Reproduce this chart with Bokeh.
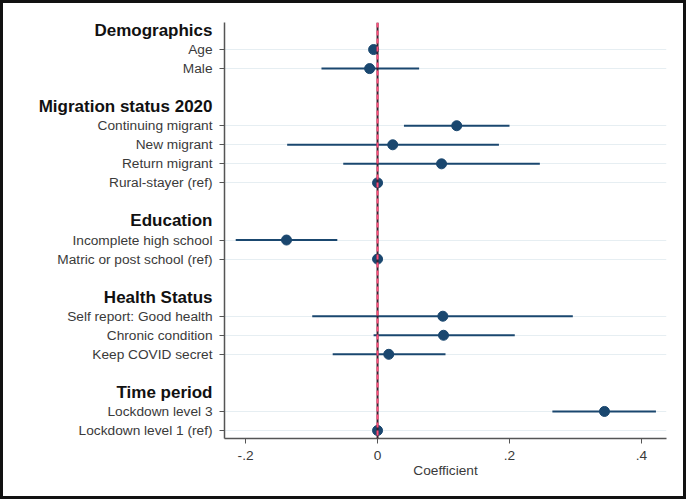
from bokeh.plotting import figure
from bokeh.models import Range1d, FixedTicker, Span, ColumnDataSource
from bokeh.layouts import row
from bokeh.core.properties import value
from bokeh.embed import file_html
from bokeh.resources import INLINE

# ---- data ----
groups = ["Demographics", "Migration status 2020", "Education", "Health Status", "Time period"]
group_items = [
    ["Age", "Male"],
    ["Continuing migrant", "New migrant", "Return migrant", "Rural-stayer (ref)"],
    ["Incomplete high school", "Matric or post school (ref)"],
    ["Self report: Good health", "Chronic condition", "Keep COVID secret"],
    ["Lockdown level 3", "Lockdown level 1 (ref)"],
]
coef = [-0.006, -0.012,
        0.120, 0.023, 0.097, 0.0,
        -0.138, 0.0,
        0.099, 0.100, 0.017,
        0.344, 0.0]
ci_low = [-0.006, -0.085,
          0.040, -0.137, -0.052, 0.0,
          -0.215, 0.0,
          -0.099, -0.006, -0.068,
          0.265, 0.0]
ci_high = [-0.006, 0.063,
           0.200, 0.184, 0.246, 0.0,
           -0.061, 0.0,
           0.296, 0.208, 0.103,
           0.422, 0.0]
x_ticks = [-0.2, 0.0, 0.2, 0.4]
x_tick_labels = ["-.2", "0", ".2", ".4"]

# ---- row layout (header row, items, blank row between groups) ----
header_rows = []
item_rows = []
item_labels = []
r = 0
for g, items in zip(groups, group_items):
    header_rows.append(r)
    r += 1
    for it in items:
        item_rows.append(r)
        item_labels.append(it)
        r += 1
    r += 1
last_row = item_rows[-1]

NAVY = "#1a476f"
TXT = "#3a3a3a"
AX = "#555555"
FONT = "Liberation Sans"
X0, X1 = -0.232, 0.438
H = 493
TOP, BOTTOM = 19, 58
LW = 211          # width of label panel
MW = 469          # width of main panel

yr = Range1d(last_row + 0.42, -0.42)

# ---- label panel ----
lp = figure(width=LW, height=H, output_backend="svg", toolbar_location=None,
            x_range=Range1d(0, LW), y_range=yr, x_axis_type=None, y_axis_type=None,
            min_border_left=0, min_border_right=0, min_border_top=TOP, min_border_bottom=BOTTOM)
lp.outline_line_color = None
lp.grid.visible = False
lp.text(x=[LW - 2] * len(item_rows), y=item_rows, text=item_labels,
        text_align="right", text_baseline="middle", text_font=value(FONT),
        text_font_size="13.7px", text_color=TXT)
lp.text(x=[LW - 2] * len(header_rows), y=header_rows, text=groups,
        text_align="right", text_baseline="middle", text_font=value(FONT),
        text_font_style="bold", text_font_size="17px", text_color="#111111")

# ---- main panel ----
p = figure(width=MW, height=H, output_backend="svg", toolbar_location=None,
           x_range=Range1d(X0, X1), y_range=yr,
           min_border_left=10, min_border_right=17, min_border_top=TOP, min_border_bottom=BOTTOM)
p.outline_line_color = None

p.xgrid.visible = False
p.ygrid.ticker = FixedTicker(ticks=item_rows)
p.ygrid.grid_line_color = "#e6eef2"
p.ygrid.grid_line_width = 1

p.yaxis.ticker = FixedTicker(ticks=item_rows)
p.yaxis.major_label_overrides = {r_: "" for r_ in item_rows}
p.yaxis.major_label_text_font_size = "1px"
p.yaxis.major_label_standoff = 0
p.yaxis.axis_line_color = AX
p.yaxis.axis_line_width = 1.5
p.yaxis.major_tick_line_color = AX
p.yaxis.major_tick_in = 0
p.yaxis.major_tick_out = 5
p.yaxis.minor_tick_line_color = None

p.xaxis.ticker = FixedTicker(ticks=x_ticks)
p.xaxis.major_label_overrides = {t: l for t, l in zip(x_ticks, x_tick_labels)}
p.xaxis.major_label_text_font = FONT
p.xaxis.major_label_text_font_size = "13.7px"
p.xaxis.major_label_text_color = TXT
p.xaxis.axis_line_color = AX
p.xaxis.axis_line_width = 1.5
p.xaxis.major_tick_line_color = AX
p.xaxis.major_tick_in = 0
p.xaxis.major_tick_out = 5
p.xaxis.minor_tick_line_color = None
p.xaxis.major_label_standoff = 7
p.xaxis.axis_label = "Coefficient"
p.xaxis.axis_label_text_font = FONT
p.xaxis.axis_label_text_font_size = "13.7px"
p.xaxis.axis_label_text_font_style = "normal"
p.xaxis.axis_label_text_color = TXT
p.xaxis.axis_label_standoff = 0

p.add_layout(Span(location=0, dimension="height", line_color="#3a2030", line_width=2))
p.add_layout(Span(location=0, dimension="height", line_color="#ff4f7b", line_width=2, line_dash="5 3"))

src = ColumnDataSource(dict(y=item_rows, coef=coef, lo=ci_low, hi=ci_high))
p.segment(x0="lo", x1="hi", y0="y", y1="y", source=src, line_color=NAVY, line_width=2)
p.scatter(x="coef", y="y", source=src, size=10, fill_color=NAVY, line_color=NAVY)

layout = row(lp, p, spacing=0)
layout.styles = {"border": "3px solid #111"}

open("out.html", "w").write(file_html(layout, INLINE))
